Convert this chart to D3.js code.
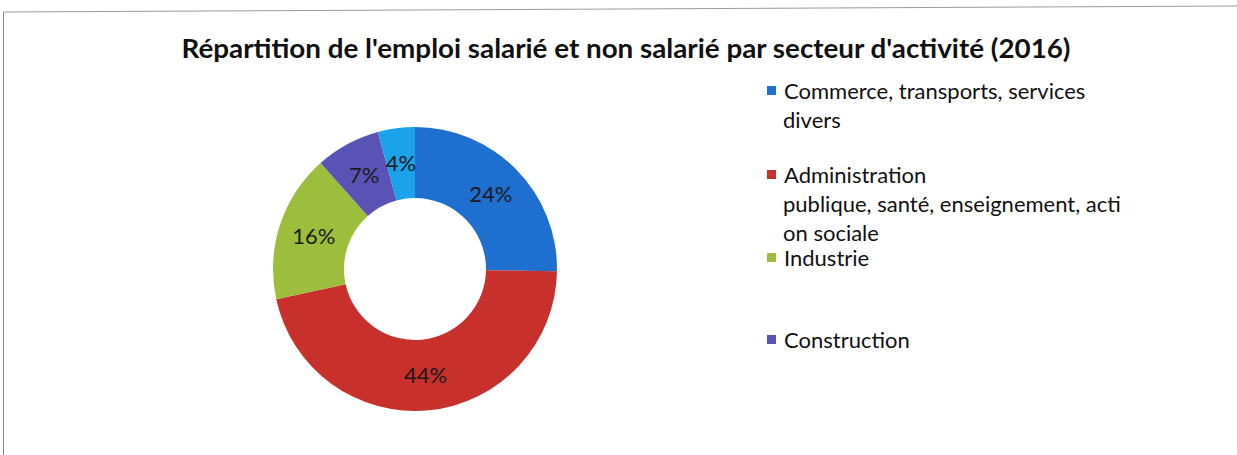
<html>
<head>
  <meta charset="utf-8">
  <script src="https://d3js.org/d3.v7.min.js"></script>
  <style>
    body { margin: 0; background: white; }
    text { font-family: Lato, "Open Sans", sans-serif; }
  </style>
</head>
<body>
<script>
  const categories = ["Commerce, transports, services divers",
    "Administration publique, santé, enseignement, action sociale",
    "Industrie", "Construction", "Agriculture"];
  const values = [24, 44, 16, 7, 4];
  const colors = ["#1f6fd0", "#c8302c", "#9cbe3c", "#5b52b5", "#1aa3ea"];
  // legend lines as shown (the last category is not in the legend)
  const legendLines = [
    ["Commerce, transports, services", "divers"],
    ["Administration", "publique, santé, enseignement, acti", "on sociale"],
    ["Industrie"],
    ["Construction"]
  ];
  const legendY = [91, 175, 258, 340];

  const width = 1237, height = 455;
  const svg = d3.select("body").append("svg")
    .attr("width", width).attr("height", height);

  // scanned frame
  svg.append("line").attr("x1", 3).attr("y1", 12).attr("x2", 1237).attr("y2", 6)
    .attr("stroke", "#9a9a9a").attr("stroke-width", 1);
  svg.append("line").attr("x1", 3.5).attr("y1", 12).attr("x2", 3.5).attr("y2", 455)
    .attr("stroke", "#8a8a8a").attr("stroke-width", 1);

  svg.append("text")
    .attr("x", 626).attr("y", 58)
    .attr("text-anchor", "middle")
    .attr("font-size", 27).attr("font-weight", "bold").attr("fill", "#111")
    .attr("textLength", 889).attr("lengthAdjust", "spacingAndGlyphs")
    .text("Répartition de l'emploi salarié et non salarié par secteur d'activité (2016)");

  const cx = 415, cy = 269, rOuter = 142, rInner = 71;
  const data = values.map((v, i) => ({ name: categories[i], value: v, color: colors[i] }));
  const pie = d3.pie().value(d => d.value).sort(null);
  const arc = d3.arc().innerRadius(rInner).outerRadius(rOuter);

  const g = svg.append("g").attr("transform", `translate(${cx},${cy})`);
  const arcs = pie(data);
  g.selectAll("path").data(arcs).join("path")
    .attr("d", arc)
    .attr("fill", d => d.data.color);

  g.selectAll("text").data(arcs).join("text")
    .attr("transform", d => `translate(${arc.centroid(d)})`)
    .attr("text-anchor", "middle")
    .attr("dy", "0.35em")
    .attr("font-size", 22).attr("fill", "#1a1a1a")
    .text(d => d.data.value + "%");

  const lg = svg.append("g");
  legendLines.forEach((lines, i) => {
    lg.append("rect")
      .attr("x", 767).attr("y", legendY[i] - 5)
      .attr("width", 9).attr("height", 9)
      .attr("fill", colors[i]);
    lines.forEach((t, j) => {
      lg.append("text")
        .attr("x", j === 0 ? 784 : 783).attr("y", legendY[i] + 8 + j * 29)
        .attr("font-size", 22).attr("fill", "#111")
        .text(t);
    });
  });
</script>
</body>
</html>
